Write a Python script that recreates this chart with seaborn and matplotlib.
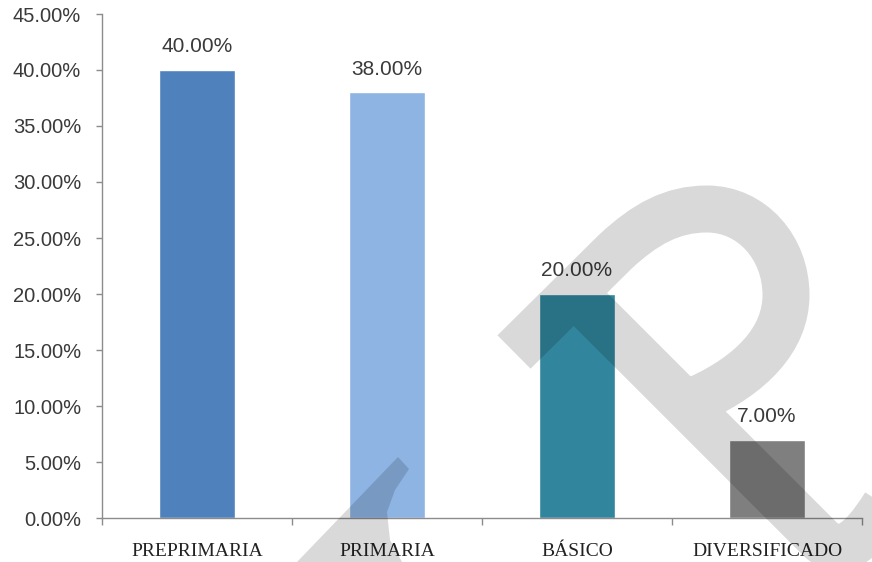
import seaborn as sns
import matplotlib
matplotlib.use("Agg")
import matplotlib.pyplot as plt
import pandas as pd
from matplotlib.path import Path
from matplotlib.patches import PathPatch, Polygon
from matplotlib.ticker import FixedLocator, FuncFormatter

# data
categories = ['PREPRIMARIA', 'PRIMARIA', 'BÁSICO', 'DIVERSIFICADO']
values = [40.0, 38.0, 20.0, 7.0]
colors = ['#4F81BD', '#8EB4E3', '#31859C', '#7F7F7F']
yticks = [0, 5, 10, 15, 20, 25, 30, 35, 40, 45]

df = pd.DataFrame({'nivel': categories, 'pct': values})

sns.set_style('white')
plt.rcParams['font.family'] = ['Liberation Sans', 'DejaVu Sans']

W, H = 872, 562
fig = plt.figure(figsize=(W / 100, H / 100), dpi=100)
ax = fig.add_axes([102 / W, 1 - 518 / H, 760 / W, 504 / H])

sns.barplot(data=df, x='nivel', y='pct', hue='nivel', palette=colors,
            width=0.4, legend=False, saturation=1, ax=ax)

ax.set_xlim(-0.5, 3.5)
ax.set_ylim(0, 45)
ax.set_yticks(yticks)
ax.yaxis.set_major_formatter(FuncFormatter(lambda v, p: f'{v:.2f}%'))
ax.set_xlabel('')
ax.set_ylabel('')

for p in ax.patches:
    h = p.get_height()
    ax.annotate(f'{h:.2f}%', (p.get_x() + p.get_width() / 2, h),
                xytext=(0, 10), textcoords='offset points',
                ha='center', va='bottom', fontsize=15, color='#3a3a3a')

for s in ['top', 'right']:
    ax.spines[s].set_visible(False)
for s in ['left', 'bottom']:
    ax.spines[s].set_color('#8C8C8C')
    ax.spines[s].set_linewidth(1.0)

ax.tick_params(axis='y', which='major', length=4, width=1, color='#8C8C8C',
               labelsize=14.5, labelcolor='#3a3a3a', pad=11, left=True)
ax.tick_params(axis='x', which='major', length=0, pad=18, labelsize=14,
               labelcolor='#222222')
for lab in ax.get_xticklabels():
    lab.set_family(['Liberation Serif', 'DejaVu Serif'])
ax.xaxis.set_minor_locator(FixedLocator([-0.5, 0.5, 1.5, 2.5, 3.5]))
ax.tick_params(axis='x', which='minor', length=5, width=1, color='#8C8C8C',
               bottom=True)


# watermark overlay (decoration, in image pixel coords)
def fpx(pts):
    return [(x / W, 1 - y / H) for x, y in pts]


M, L, C = Path.MOVETO, Path.LINETO, Path.CURVE4
wm_pts = [(514, 352), (615, 252),
          (645, 224), (672, 209), (707, 209),
          (752, 209), (786, 248), (786, 295),
          (786, 340), (750, 375), (700, 398),
          (573, 292), (820, 539),
          (840, 558), (860, 545), (885, 505)]
wm_codes = [M, L, C, C, C, C, C, C, C, C, C, M, L, C, C, C]
wm = PathPatch(Path(fpx(wm_pts), wm_codes), fill=False,
               edgecolor=(0, 0, 0, 0.15), linewidth=47 * 0.72,
               capstyle='butt', joinstyle='round',
               transform=fig.transFigure, zorder=10)
fig.add_artist(wm)
leg = Polygon(fpx([(398, 457), (409, 469), (395, 490), (387, 512), (390, 540),
                   (402, 562), (297, 562)]), closed=True,
              facecolor=(0, 0, 0, 0.15), edgecolor='none',
              transform=fig.transFigure, zorder=10)
fig.add_artist(leg)

fig.savefig('out.png', dpi=100)
